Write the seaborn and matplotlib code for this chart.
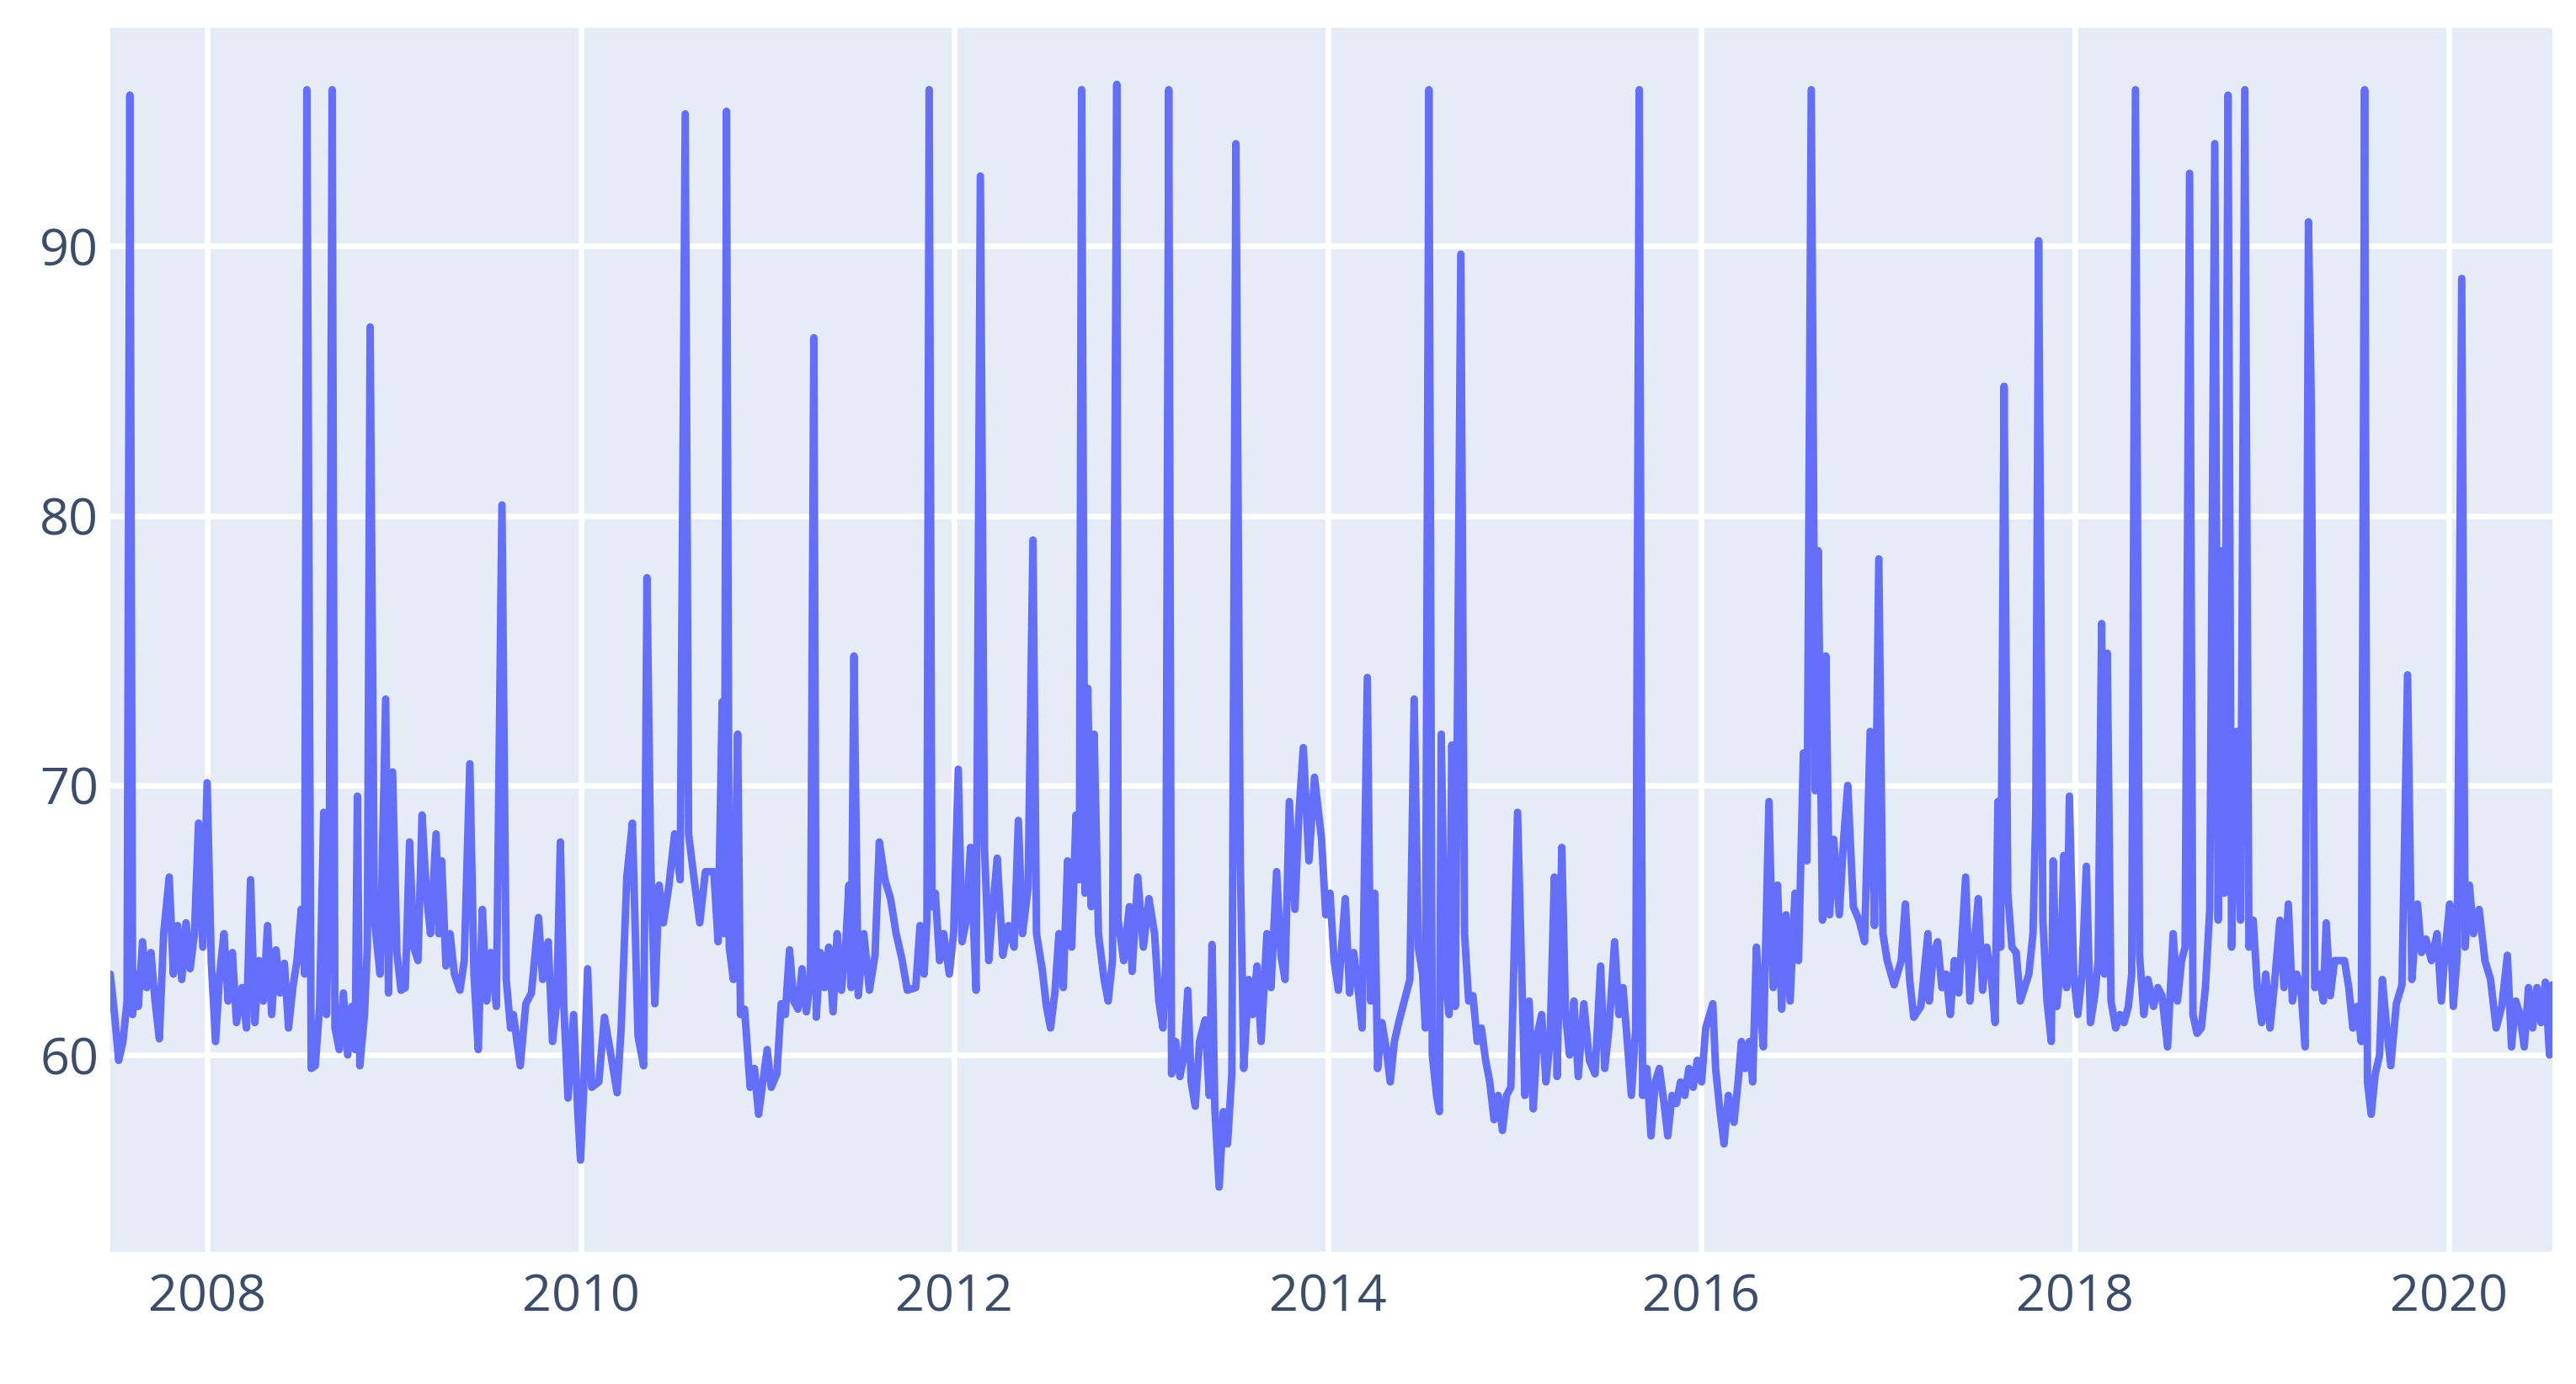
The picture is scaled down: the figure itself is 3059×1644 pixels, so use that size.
import pandas as pd
import matplotlib
matplotlib.use('Agg')
import matplotlib.pyplot as plt
import matplotlib.dates as mdates
import seaborn as sns

# (decimal year, value)
seg_2007 = [
    (2007.480, 63.0), (2007.503, 61.5), (2007.525, 59.8), (2007.548, 60.5), (2007.570, 62.0),
    (2007.585, 95.6), (2007.600, 61.5), (2007.615, 63.0), (2007.630, 61.8), (2007.653, 64.2),
    (2007.675, 62.5), (2007.698, 63.8), (2007.720, 62.0), (2007.743, 60.6), (2007.766, 64.5),
    (2007.796, 66.6), (2007.818, 63.0), (2007.841, 64.8), (2007.863, 62.8), (2007.886, 64.9),
    (2007.908, 63.2), (2007.931, 64.5), (2007.953, 68.6), (2007.976, 64.0), (2007.999, 70.1),
    (2008.021, 63.5), (2008.044, 60.5), (2008.066, 63.0), (2008.089, 64.5), (2008.111, 62.0),
    (2008.134, 63.8), (2008.156, 61.2), (2008.186, 62.5), (2008.209, 61.0), (2008.231, 66.5),
    (2008.254, 61.2), (2008.277, 63.5), (2008.299, 62.0), (2008.322, 64.8), (2008.344, 61.5),
    (2008.367, 63.9), (2008.389, 62.3), (2008.412, 63.4), (2008.434, 61.0), (2008.457, 62.5),
    (2008.479, 63.5), (2008.502, 65.4), (2008.520, 63.0), (2008.532, 95.8), (2008.555, 59.5),
]
seg_2008 = [
    (2008.577, 59.6), (2008.600, 61.8), (2008.622, 69.0), (2008.637, 61.5), (2008.652, 67.5),
    (2008.667, 95.8), (2008.682, 61.0), (2008.705, 60.2), (2008.727, 62.3), (2008.750, 60.0),
    (2008.772, 61.8), (2008.790, 60.2), (2008.802, 69.6), (2008.815, 59.6), (2008.840, 61.5),
    (2008.855, 64.0), (2008.870, 87.0), (2008.893, 65.0), (2008.923, 63.0), (2008.953, 73.2),
    (2008.968, 62.3), (2008.990, 70.5), (2009.013, 63.8), (2009.035, 62.4), (2009.058, 62.5),
    (2009.081, 67.9), (2009.103, 64.0), (2009.126, 63.5), (2009.148, 68.9), (2009.171, 66.0),
    (2009.193, 64.5), (2009.223, 68.2), (2009.238, 64.5), (2009.253, 67.2), (2009.276, 63.3),
    (2009.298, 64.5), (2009.321, 63.0), (2009.351, 62.4), (2009.374, 63.5), (2009.404, 70.8),
    (2009.426, 63.0), (2009.449, 60.2), (2009.471, 65.4), (2009.494, 62.0), (2009.516, 63.8),
    (2009.546, 61.8), (2009.576, 80.4), (2009.599, 62.8), (2009.622, 61.0),
]
seg_2009 = [
    (2009.637, 61.5), (2009.674, 59.6), (2009.704, 61.9), (2009.734, 62.3), (2009.772, 65.1),
    (2009.794, 62.8), (2009.824, 64.2), (2009.847, 60.5), (2009.870, 62.0), (2009.889, 67.9),
    (2009.907, 61.9), (2009.930, 58.4), (2009.960, 61.5), (2009.982, 57.9), (2009.997, 56.1),
    (2010.012, 58.4), (2010.035, 63.2), (2010.057, 58.8), (2010.095, 59.0), (2010.125, 61.4),
    (2010.155, 60.2), (2010.193, 58.6), (2010.215, 61.0), (2010.245, 66.6), (2010.275, 68.6),
    (2010.305, 60.7), (2010.335, 59.6), (2010.353, 77.7), (2010.373, 67.2), (2010.395, 61.9),
    (2010.418, 66.3), (2010.441, 64.9), (2010.471, 66.3), (2010.501, 68.2), (2010.531, 66.5),
    (2010.558, 94.9), (2010.576, 68.2), (2010.606, 66.5), (2010.636, 64.9), (2010.666, 66.8),
]
seg_2010 = [
    (2010.711, 66.8), (2010.734, 64.2), (2010.756, 73.1), (2010.768, 64.5), (2010.779, 95.0),
    (2010.794, 64.0), (2010.816, 62.8), (2010.839, 71.9), (2010.854, 61.5), (2010.876, 61.7),
    (2010.906, 58.8), (2010.929, 59.5), (2010.951, 57.8), (2010.974, 59.0), (2010.997, 60.2),
    (2011.019, 58.8), (2011.049, 59.3), (2011.072, 61.9), (2011.094, 61.5), (2011.117, 63.9),
    (2011.139, 62.0), (2011.162, 61.7), (2011.184, 63.2), (2011.207, 61.6), (2011.229, 62.8),
    (2011.247, 86.6), (2011.260, 61.4), (2011.282, 63.8), (2011.305, 62.5), (2011.327, 64.0),
    (2011.350, 61.6), (2011.372, 64.5), (2011.395, 62.4), (2011.417, 64.0), (2011.435, 66.3),
    (2011.447, 62.5), (2011.462, 74.8), (2011.485, 62.2), (2011.515, 64.5), (2011.545, 62.4),
    (2011.575, 63.7), (2011.598, 67.9), (2011.628, 66.5), (2011.658, 65.8), (2011.688, 64.5),
    (2011.718, 63.6), (2011.748, 62.4),
]
seg_2011 = [
    (2011.793, 62.5), (2011.816, 64.8), (2011.838, 63.0), (2011.853, 65.0), (2011.865, 95.8),
    (2011.880, 65.5), (2011.898, 66.0), (2011.921, 63.5), (2011.943, 64.5), (2011.973, 63.0),
    (2011.996, 64.5), (2012.021, 70.6), (2012.041, 64.2), (2012.064, 65.0), (2012.086, 67.7),
    (2012.116, 62.4), (2012.139, 92.6), (2012.161, 67.7), (2012.184, 63.5), (2012.206, 65.5),
    (2012.229, 67.3), (2012.259, 63.7), (2012.289, 64.8), (2012.319, 64.0), (2012.342, 68.7),
    (2012.364, 64.5), (2012.394, 66.2), (2012.420, 79.1), (2012.439, 64.5), (2012.469, 63.2),
    (2012.492, 61.8), (2012.514, 61.0), (2012.537, 62.3), (2012.559, 64.5), (2012.582, 62.5),
    (2012.605, 67.2), (2012.627, 64.0), (2012.650, 68.9), (2012.668, 66.5), (2012.680, 95.8),
    (2012.698, 66.0), (2012.713, 73.6), (2012.732, 65.5), (2012.747, 71.9), (2012.770, 64.5),
    (2012.800, 62.8), (2012.822, 62.0), (2012.845, 63.5), (2012.868, 96.0),
]
seg_2012 = [
    (2012.875, 65.0), (2012.905, 63.5), (2012.935, 65.5), (2012.950, 63.1), (2012.980, 66.6),
    (2013.010, 64.0), (2013.040, 65.8), (2013.070, 64.5), (2013.093, 62.0), (2013.115, 61.0),
    (2013.130, 63.5), (2013.146, 95.8), (2013.161, 59.3), (2013.183, 60.5), (2013.206, 59.2),
    (2013.228, 60.0), (2013.248, 62.4), (2013.266, 59.0), (2013.288, 58.1), (2013.311, 60.5),
    (2013.341, 61.3), (2013.363, 58.5), (2013.378, 64.1), (2013.393, 58.0), (2013.416, 55.1),
    (2013.439, 57.9), (2013.461, 56.7), (2013.484, 59.3), (2013.506, 93.8), (2013.529, 67.3),
    (2013.548, 59.5), (2013.574, 62.8), (2013.596, 61.5), (2013.619, 63.3), (2013.641, 60.5),
    (2013.672, 64.5), (2013.694, 62.5), (2013.724, 66.8), (2013.747, 63.7), (2013.769, 62.8),
    (2013.792, 69.4), (2013.822, 65.4), (2013.844, 69.0), (2013.867, 71.4), (2013.897, 67.2),
    (2013.927, 70.3),
]
seg_2014 = [
    (2013.965, 68.0), (2013.987, 65.2), (2014.010, 66.0), (2014.032, 63.5), (2014.055, 62.4),
    (2014.092, 65.8), (2014.115, 62.3), (2014.137, 63.8), (2014.160, 62.5), (2014.182, 61.0),
    (2014.210, 74.0), (2014.228, 62.0), (2014.250, 66.0), (2014.265, 59.5), (2014.288, 61.2),
    (2014.310, 60.3), (2014.333, 59.0), (2014.355, 60.5), (2014.378, 61.2), (2014.408, 62.0),
    (2014.438, 62.8), (2014.461, 73.2), (2014.483, 64.0), (2014.506, 63.0), (2014.521, 61.0),
    (2014.540, 95.8), (2014.558, 60.0), (2014.581, 58.5), (2014.596, 57.9), (2014.606, 71.9),
    (2014.626, 63.0), (2014.648, 61.5), (2014.663, 71.5), (2014.681, 61.8), (2014.711, 89.7),
    (2014.731, 64.5), (2014.753, 62.0), (2014.776, 62.2), (2014.799, 60.5), (2014.821, 61.0),
    (2014.844, 59.8), (2014.866, 59.0), (2014.889, 57.6), (2014.911, 58.5), (2014.934, 57.2),
    (2014.956, 58.5), (2014.979, 58.8),
]
seg_2015 = [
    (2015.015, 69.0), (2015.054, 58.5), (2015.077, 62.0), (2015.099, 58.0), (2015.122, 60.8),
    (2015.144, 61.5), (2015.167, 59.0), (2015.189, 60.5), (2015.212, 66.6), (2015.227, 59.2),
    (2015.252, 67.7), (2015.272, 61.5), (2015.294, 60.0), (2015.317, 62.0), (2015.340, 59.2),
    (2015.370, 61.9), (2015.400, 59.8), (2015.430, 59.3), (2015.460, 63.3), (2015.482, 59.5),
    (2015.505, 61.0), (2015.535, 64.2), (2015.558, 61.5), (2015.580, 62.5), (2015.603, 60.5),
    (2015.625, 58.5), (2015.648, 61.0), (2015.667, 95.8), (2015.685, 58.5), (2015.708, 59.5),
    (2015.730, 57.0), (2015.753, 59.0), (2015.775, 59.5), (2015.798, 58.3), (2015.820, 57.0),
    (2015.843, 58.5), (2015.866, 58.2), (2015.888, 59.0), (2015.911, 58.5), (2015.933, 59.5),
    (2015.956, 58.8), (2015.978, 59.8), (2016.001, 59.0), (2016.023, 61.0), (2016.061, 61.9),
    (2016.076, 59.5), (2016.098, 58.0), (2016.121, 56.7), (2016.144, 58.5),
]
seg_2016 = [
    (2016.151, 58.2), (2016.174, 57.5), (2016.196, 59.0), (2016.214, 60.5), (2016.234, 59.5),
    (2016.256, 60.5), (2016.274, 59.0), (2016.294, 64.0), (2016.313, 62.0), (2016.331, 60.3),
    (2016.361, 69.4), (2016.384, 62.5), (2016.407, 66.3), (2016.429, 61.7), (2016.452, 65.2),
    (2016.474, 62.0), (2016.500, 66.0), (2016.519, 63.5), (2016.545, 71.2), (2016.564, 67.2),
    (2016.587, 95.8), (2016.609, 69.8), (2016.624, 78.7), (2016.647, 65.0), (2016.665, 74.8),
    (2016.685, 65.2), (2016.707, 68.0), (2016.737, 65.2), (2016.760, 68.0), (2016.782, 70.0),
    (2016.812, 65.5), (2016.842, 65.0), (2016.872, 64.2), (2016.902, 72.0), (2016.925, 64.8),
    (2016.948, 78.4), (2016.970, 64.5), (2016.993, 63.5), (2017.030, 62.6), (2017.068, 63.5),
    (2017.090, 65.6), (2017.113, 62.8), (2017.135, 61.4), (2017.173, 61.8), (2017.211, 64.5),
]
seg_2017 = [
    (2017.218, 62.0), (2017.241, 63.8), (2017.263, 64.2), (2017.286, 62.5), (2017.308, 63.0),
    (2017.331, 61.5), (2017.353, 63.5), (2017.376, 62.3), (2017.413, 66.6), (2017.436, 62.0),
    (2017.458, 64.0), (2017.481, 65.8), (2017.504, 62.4), (2017.526, 64.0), (2017.549, 63.0),
    (2017.571, 61.2), (2017.586, 69.4), (2017.601, 64.0), (2017.619, 84.8), (2017.639, 66.0),
    (2017.661, 64.0), (2017.684, 63.8), (2017.706, 62.0), (2017.729, 62.5), (2017.752, 63.0),
    (2017.774, 64.5), (2017.789, 69.0), (2017.804, 90.2), (2017.827, 65.0), (2017.849, 62.0),
    (2017.872, 60.5), (2017.882, 67.2), (2017.902, 61.8), (2017.924, 63.5), (2017.939, 67.4),
    (2017.954, 62.5), (2017.969, 69.6), (2017.992, 63.0), (2018.014, 61.5), (2018.037, 63.0),
    (2018.060, 67.0), (2018.082, 61.2), (2018.105, 62.2), (2018.123, 63.5), (2018.142, 76.0),
    (2018.157, 63.0), (2018.172, 74.9), (2018.192, 62.0), (2018.217, 61.0), (2018.240, 61.5),
    (2018.262, 61.2), (2018.285, 61.8), (2018.303, 63.0),
]
seg_2018 = [
    (2018.323, 95.8), (2018.345, 63.7), (2018.368, 61.5), (2018.390, 62.8), (2018.420, 61.8),
    (2018.443, 62.5), (2018.465, 62.2), (2018.495, 60.3), (2018.525, 64.5), (2018.548, 62.0),
    (2018.570, 63.5), (2018.589, 64.0), (2018.613, 92.7), (2018.631, 61.5), (2018.653, 60.8),
    (2018.676, 61.0), (2018.698, 62.5), (2018.721, 65.4), (2018.748, 93.8), (2018.766, 65.0),
    (2018.784, 78.7), (2018.799, 66.0), (2018.819, 95.6), (2018.838, 64.0), (2018.864, 72.0),
    (2018.886, 65.0), (2018.909, 95.8), (2018.931, 64.0), (2018.954, 65.0), (2018.976, 62.5),
    (2018.999, 61.2), (2019.021, 63.0), (2019.044, 61.0), (2019.066, 62.5), (2019.097, 65.0),
    (2019.119, 62.5), (2019.142, 65.6), (2019.164, 62.0), (2019.187, 63.0), (2019.209, 62.5),
    (2019.232, 60.3), (2019.250, 90.9), (2019.265, 84.2), (2019.284, 62.5), (2019.307, 63.0),
    (2019.330, 62.0), (2019.345, 64.9), (2019.367, 62.2), (2019.390, 63.5),
]
seg_2019 = [
    (2019.443, 63.5), (2019.466, 62.5), (2019.488, 61.0), (2019.511, 61.8), (2019.533, 60.5),
    (2019.551, 95.8), (2019.566, 59.0), (2019.586, 57.8), (2019.608, 59.3), (2019.631, 60.0),
    (2019.646, 62.8), (2019.669, 61.0), (2019.691, 59.6), (2019.721, 61.9), (2019.751, 62.6),
    (2019.781, 74.1), (2019.804, 62.8), (2019.834, 65.6), (2019.856, 63.8), (2019.879, 64.3),
    (2019.909, 63.5), (2019.939, 64.5), (2019.962, 62.0), (2019.984, 64.0), (2020.007, 65.6),
    (2020.026, 61.8), (2020.047, 63.7), (2020.071, 88.8), (2020.089, 64.0), (2020.112, 66.3),
    (2020.134, 64.5), (2020.164, 65.4), (2020.195, 63.5), (2020.225, 62.8), (2020.255, 61.0),
    (2020.285, 61.8), (2020.315, 63.7), (2020.337, 60.3), (2020.360, 62.0), (2020.382, 61.5),
    (2020.405, 60.3), (2020.428, 62.5), (2020.450, 61.0), (2020.473, 62.5), (2020.495, 61.2),
    (2020.518, 62.7), (2020.540, 60.0), (2020.555, 62.6),
]

segments = [seg_2007, seg_2008, seg_2009, seg_2010, seg_2011, seg_2012,
            seg_2014, seg_2015, seg_2016, seg_2017, seg_2018, seg_2019]


def to_date(y):
    year = int(y)
    start = pd.Timestamp(year=year, month=1, day=1)
    end = pd.Timestamp(year=year + 1, month=1, day=1)
    return start + (end - start) * (y - year)


df = pd.DataFrame([p for s in segments for p in s], columns=['t', 'value'])
df['date'] = df['t'].apply(to_date)

sns.set_theme(style='darkgrid')
plt.rcParams['font.family'] = ['Open Sans', 'DejaVu Sans']

fig = plt.figure(figsize=(15.295, 8.22), dpi=200)
ax = fig.add_axes([0.0428, 0.0955, 0.948, 0.8845])
ax.set_facecolor('#E5ECF6')

sns.lineplot(data=df, x='date', y='value', color='#636EFA', linewidth=3.2,
             estimator=None, ax=ax)

ax.set_xlim(df['date'].min(), df['date'].max())
ax.set_ylim(52.7, 98.1)
ax.set_yticks([60, 70, 80, 90])
ax.xaxis.set_major_locator(mdates.YearLocator(2))
ax.xaxis.set_major_formatter(mdates.DateFormatter('%Y'))
ax.grid(color='white', linewidth=2.4)
ax.tick_params(length=0, labelsize=22, labelcolor='#3b4d6b')
ax.tick_params(axis='x', pad=9)
ax.tick_params(axis='y', pad=5)
ax.set_xlabel('')
ax.set_ylabel('')
for sp in ax.spines.values():
    sp.set_visible(False)

fig.savefig('out.png', dpi=200, facecolor='white')
